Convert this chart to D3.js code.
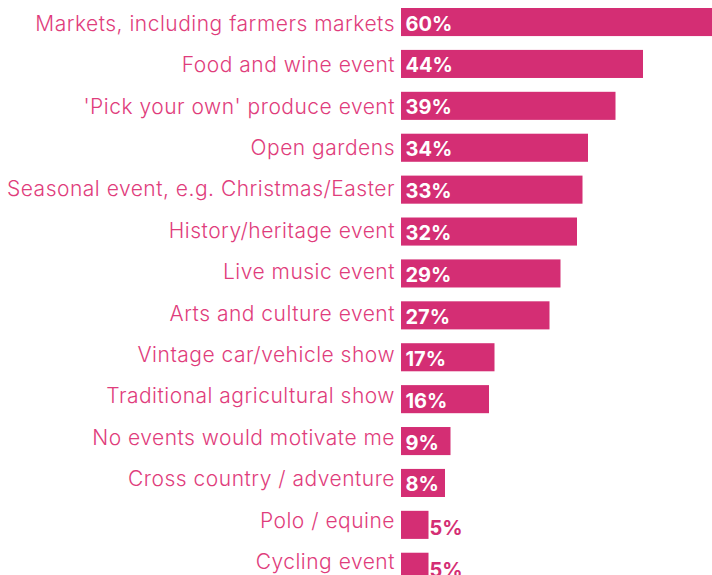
<!DOCTYPE html>
<html>
<head>
<meta charset="utf-8">
<script src="https://cdn.jsdelivr.net/npm/d3@7"></script>
<style>
  html, body { margin: 0; padding: 0; background: #fff; overflow: hidden; }
  svg { display: block; }
</style>
</head>
<body>
<svg id="chart" width="712" height="575"></svg>
<script>
const categories = [
  "Markets, including farmers markets",
  "Food and wine event",
  "'Pick your own' produce event",
  "Open gardens",
  "Seasonal event, e.g. Christmas/Easter",
  "History/heritage event",
  "Live music event",
  "Arts and culture event",
  "Vintage car/vehicle show",
  "Traditional agricultural show",
  "No events would motivate me",
  "Cross country / adventure",
  "Polo / equine",
  "Cycling event"
];
const values = [60, 44, 39, 34, 33, 32, 29, 27, 17, 16, 9, 8, 5, 5];

const barColor = "#d42e74";
const labelColor = "#df3d7c";

const svg = d3.select("#chart");
const x0 = 401;
const x = d3.scaleLinear().domain([0, 60]).range([x0, x0 + 330]);
const y = d3.scaleBand()
  .domain(categories)
  .range([8, 580.8])
  .paddingInner(0.33)
  .paddingOuter(0);
// category labels sit on their own slightly tighter grid
const yLabel = d3.scalePoint()
  .domain(categories)
  .range([30.7, 569]);

const data = categories.map((c, i) => ({ cat: c, val: values[i] }));

// category labels
svg.append("g").selectAll("text")
  .data(data).join("text")
  .attr("x", 395)
  .attr("y", d => yLabel(d.cat))
  .attr("text-anchor", "end")
  .attr("font-family", "Inter, 'Noto Sans', sans-serif")
  .attr("font-weight", 300)
  .attr("font-size", 21)
  .attr("letter-spacing", "0.5")
  .attr("fill", labelColor)
  .text(d => d.cat);

// bars
svg.append("g").selectAll("rect")
  .data(data).join("rect")
  .attr("x", x(0))
  .attr("y", d => y(d.cat))
  .attr("width", d => x(d.val) - x(0))
  .attr("height", y.bandwidth())
  .attr("fill", barColor);

// value labels
svg.append("g").selectAll("text")
  .data(data).join("text")
  .attr("x", d => d.val >= 8 ? x(0) + 4.5 : x(d.val) + 1)
  .attr("y", d => d.val >= 8 ? y(d.cat) + 22.5 : y(d.cat) + 24.5)
  .attr("font-family", "Inter, 'Noto Sans', sans-serif")
  .attr("font-weight", 700)
  .attr("font-size", 20)
  .attr("fill", d => d.val >= 8 ? "#ffffff" : barColor)
  .text(d => d.val + "%");
</script>
</body>
</html>
